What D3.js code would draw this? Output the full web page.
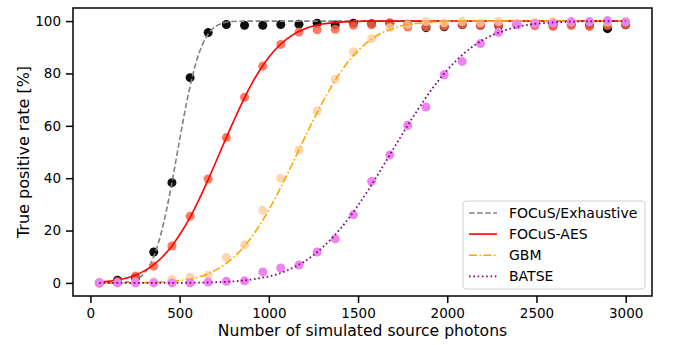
<!DOCTYPE html>
<html>
<head>
<meta charset="utf-8">
<script src="https://cdn.jsdelivr.net/npm/d3@7"></script>
<style>
  body { margin: 0; background: #fff; }
  svg { font-family: "DejaVu Sans", sans-serif; }
</style>
</head>
<body>
<div id="chart"></div>
<script>
// simulated photon counts (x of the markers)
var photons = [50, 152, 253, 355, 457, 559, 660, 762, 864, 966, 1067, 1169, 1271, 1372, 1474,
  1576, 1678, 1779, 1881, 1983, 2084, 2186, 2288, 2390, 2491, 2593, 2695, 2797, 2898, 3000];

// measured true positive rates [%]
var exhaustiveTpr = [0, 1, 2, 11.8, 38.3, 78.4, 95.6, 98.7, 98.4, 98.4, 98.7, 98.8, 99.2, 98.5, 99.2,
  99.0, 99.2, 98.8, 97.5, 97.8, 98.6, 98.4, 98.3, 98.7, 98.8, 98.6, 98.9, 98.5, 97.1, 98.6];
var aesTpr = [0, 0.5, 2.6, 6.4, 14.1, 25.5, 39.7, 55.5, 70.9, 82.8, 91.1, 95.8, 96.7, 96.9, 98.4,
  98.6, 99.4, 97.7, 97.8, 98.1, 98.7, 98.4, 98.7, 98.7, 98.2, 97.9, 98.3, 97.9, 98.3, 98.7];
var gbmTpr = [0, 0, 0.3, 0.5, 1.3, 2.2, 2.9, 9.7, 14.5, 27.7, 40.0, 50.8, 65.7, 77.8, 88.3,
  93.3, 97.5, 98.7, 99.8, 99.3, 99.8, 99.3, 99.8, 99.3, 99.6, 99.8, 99.6, 99.8, 99.6, 99.8];
var batseTpr = [0, 0, 0, 0, 0, 0, 0.3, 0.6, 0.8, 4.2, 5.7, 6.8, 11.8, 16.8, 26.0,
  38.8, 48.9, 60.2, 67.2, 79.5, 84.6, 91.4, 95.7, 98.7, 99.0, 99.2, 99.8, 99.8, 100.2, 99.7];

// fitted curves
var curveX = [50, 100, 150, 200, 250, 300, 350, 400, 450, 500, 550, 600, 650, 700, 750, 800, 850, 900, 950, 1000,
  1050, 1100, 1150, 1200, 1250, 1300, 1350, 1400, 1450, 1500, 1550, 1600, 1650, 1700, 1750, 1800, 1850, 1900, 1950, 2000,
  2100, 2200, 2300, 2400, 2500, 2600, 2700, 2800, 2900, 3000];
var exhaustiveFit = [0, 0.01, 0.06, 0.28, 1.1, 3.5, 9.2, 19.9, 35.8, 54.6, 72.4, 85.9, 94.0, 97.9, 99.4, 99.87, 99.97, 100, 100, 100,
  100, 100, 100, 100, 100, 100, 100, 100, 100, 100, 100, 100, 100, 100, 100, 100, 100, 100, 100, 100,
  100, 100, 100, 100, 100, 100, 100, 100, 100, 100];
var aesFit = [0.35, 0.6, 1.1, 1.8, 2.9, 4.5, 6.7, 9.7, 13.5, 18.4, 24.0, 30.6, 37.9, 45.7, 53.7, 61.4, 68.8, 75.5, 81.3, 86.2,
  90.1, 93.1, 95.4, 97.0, 98.1, 98.9, 99.3, 99.6, 99.8, 99.9, 100, 100, 100, 100, 100, 100, 100, 100, 100, 100,
  100, 100, 100, 100, 100, 100, 100, 100, 100, 100];
var gbmFit = [0, 0, 0.01, 0.03, 0.05, 0.1, 0.17, 0.3, 0.5, 0.9, 1.4, 2.1, 3.2, 4.8, 6.9, 9.6, 13.0, 17.2, 22.2, 27.9,
  34.2, 41.0, 48.1, 55.3, 62.3, 68.9, 74.9, 80.3, 84.9, 88.7, 91.8, 94.2, 96.0, 97.3, 98.3, 98.9, 99.3, 99.6, 99.8, 99.9,
  100, 100, 100, 100, 100, 100, 100, 100, 100, 100];
var batseFit = [0, 0, 0, 0, 0, 0, 0, 0.01, 0.02, 0.04, 0.06, 0.1, 0.15, 0.25, 0.38, 0.57, 0.85, 1.24, 1.8, 2.5,
  3.4, 4.7, 6.3, 8.2, 10.6, 13.5, 16.8, 20.6, 24.9, 29.6, 34.7, 40.1, 45.7, 51.4, 57.0, 62.5, 67.7, 72.7, 77.2, 81.3,
  88.0, 92.8, 95.9, 97.9, 99.0, 99.5, 99.8, 99.9, 100, 100];

var seriesNames = ['FOCuS/Exhaustive', 'FOCuS-AES', 'GBM', 'BATSE'];
var xTicks = [0, 500, 1000, 1500, 2000, 2500, 3000];
var yTicks = [0, 20, 40, 60, 80, 100];

var width = 673, height = 345;
var mLeft = 73, mRight = 652, mTop = 8, mBottom = 296;

var series = [
  {name: seriesNames[0], pts: exhaustiveTpr, fit: exhaustiveFit, dot: '#000000', dotOp: 0.95, line: '#808080', lw: 1.6, dash: '5.5,2.6'},
  {name: seriesNames[1], pts: aesTpr, fit: aesFit, dot: '#ff6347', dotOp: 0.85, line: '#ff0000', lw: 1.6, dash: null},
  {name: seriesNames[2], pts: gbmTpr, fit: gbmFit, dot: '#ffcc99', dotOp: 0.8, line: '#ffa500', lw: 1.6, dash: '8,2.4,1.6,2.4'},
  {name: seriesNames[3], pts: batseTpr, fit: batseFit, dot: '#ee82ee', dotOp: 1, line: '#800080', lw: 1.8, dash: '1.6,2.7'}
];

var svg = d3.select('#chart').append('svg')
  .attr('width', width)
  .attr('height', height);

var x = d3.scaleLinear().domain([-97.5, 3147.5]).range([mLeft, mRight]);
var y = d3.scaleLinear().domain([-5, 105]).range([mBottom, mTop]);

var plot = svg.append('g');

var line = d3.line()
  .x(function(d) { return x(d[0]); })
  .y(function(d) { return y(d[1]); })
  .curve(d3.curveMonotoneX);

series.forEach(function(s) {
  plot.append('g').selectAll('circle')
    .data(photons)
    .enter()
    .append('circle')
    .attr('cx', function(d) { return x(d); })
    .attr('cy', function(d, i) { return y(s.pts[i]); })
    .attr('r', 4.5)
    .attr('fill', s.dot)
    .attr('fill-opacity', s.dotOp);

  plot.append('path')
    .datum(curveX.map(function(v, i) { return [v, s.fit[i]]; }))
    .attr('d', line)
    .attr('fill', 'none')
    .attr('stroke', s.line)
    .attr('stroke-width', s.lw)
    .attr('stroke-dasharray', s.dash);
});

// axes
var xAxis = svg.append('g')
  .attr('transform', 'translate(0,' + mBottom + ')')
  .call(d3.axisBottom(x).tickValues(xTicks).tickSize(7).tickPadding(5).tickFormat(d3.format('d')));
var yAxis = svg.append('g')
  .attr('transform', 'translate(' + mLeft + ',0)')
  .call(d3.axisLeft(y).tickValues(yTicks).tickSize(7).tickPadding(5).tickFormat(d3.format('d')));

[xAxis, yAxis].forEach(function(a) {
  a.select('.domain').remove();
  a.selectAll('.tick line').attr('stroke', '#000').attr('stroke-width', 1.5);
  a.selectAll('.tick text').attr('fill', '#000').style('font-size', '13.5px').style('font-family', '"DejaVu Sans", sans-serif');
});

svg.append('rect')
  .attr('x', mLeft).attr('y', mTop)
  .attr('width', mRight - mLeft).attr('height', mBottom - mTop)
  .attr('fill', 'none')
  .attr('stroke', '#000')
  .attr('stroke-width', 1.5);

svg.append('text')
  .attr('x', (mLeft + mRight) / 2)
  .attr('y', 336)
  .attr('text-anchor', 'middle')
  .style('font-size', '15.6px')
  .text('Number of simulated source photons');

svg.append('text')
  .attr('transform', 'translate(29,' + ((mTop + mBottom) / 2) + ') rotate(-90)')
  .attr('text-anchor', 'middle')
  .style('font-size', '16px')
  .text('True positive rate [%]');

// legend
var legend = svg.append('g').attr('transform', 'translate(463,201)');
legend.append('rect')
  .attr('width', 182).attr('height', 88)
  .attr('rx', 3).attr('ry', 3)
  .attr('fill', '#fff').attr('fill-opacity', 0.8)
  .attr('stroke', '#d0d0d0').attr('stroke-width', 1);

var entry = legend.selectAll('g.entry')
  .data(series)
  .enter()
  .append('g')
  .attr('class', 'entry')
  .attr('transform', function(d, i) { return 'translate(0,' + (12 + i * 21.1) + ')'; });

entry.append('line')
  .attr('x1', 6).attr('x2', 34)
  .attr('stroke', function(d) { return d.line; })
  .attr('stroke-width', function(d) { return d.lw; })
  .attr('stroke-dasharray', function(d) { return d.dash; });

entry.append('text')
  .attr('x', 46)
  .attr('dy', '0.35em')
  .style('font-size', '14px')
  .text(function(d) { return d.name; });
</script>
</body>
</html>
